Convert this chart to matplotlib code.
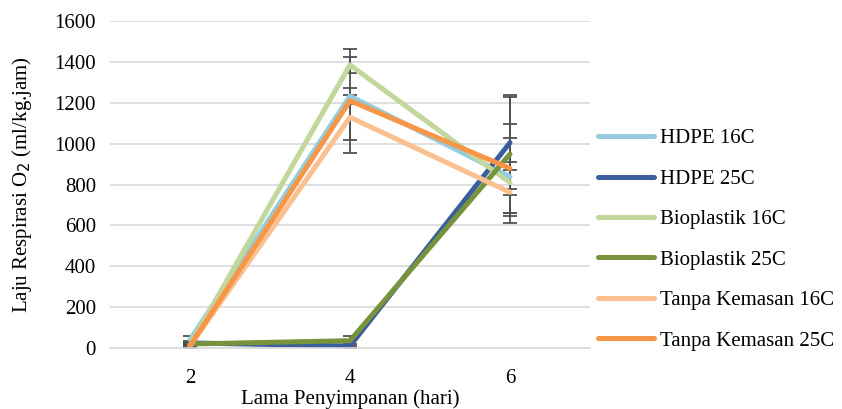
import matplotlib
matplotlib.use("Agg")
import matplotlib.pyplot as plt
import numpy as np

days = ["2", "4", "6"]
series_names = ["HDPE 16C", "HDPE 25C", "Bioplastik 16C", "Bioplastik 25C",
                "Tanpa Kemasan 16C", "Tanpa Kemasan 25C"]
hdpe16 = [40, 1233, 838]
hdpe25 = [25, 10, 1005]
bio16 = [15, 1385, 809]
bio25 = [20, 36, 949]
tanpa16 = [10, 1129, 762]
tanpa25 = [10, 1210, 879]

err_hdpe16 = [20, 40, 190]
err_hdpe25 = [10, 8, 225]
err_bio16 = [8, 40, 60]
err_bio25 = [8, 25, 290]
err_tanpa16 = [10, 110, 150]
err_tanpa25 = [8, 255, 217]

values = [hdpe16, hdpe25, bio16, bio25, tanpa16, tanpa25]
errors = [err_hdpe16, err_hdpe25, err_bio16, err_bio25, err_tanpa16, err_tanpa25]
colors = ["#93CDDD", "#3A5F9C", "#C3D69B", "#77933C", "#FAC090", "#F79646"]

plt.rcParams['font.family'] = ['Liberation Serif', 'DejaVu Serif']
FS = 15

fig = plt.figure(figsize=(8.42, 4.09), dpi=100)
ax = fig.add_axes([0.1306, 0.149, 0.5701, 0.7997])

x = np.arange(len(days))
for name, v, e, c in zip(series_names, values, errors, colors):
    ax.errorbar(x, v, yerr=e, color=c, lw=3.6, label=name,
                ecolor="#505050", elinewidth=1.3, capsize=5, capthick=1.3,
                solid_capstyle='round')

ax.set_xlim(-0.5, 2.5)
ax.set_ylim(0, 1600)
ax.set_yticks(np.arange(0, 1601, 200))
ax.set_xticks(x)
ax.set_xticklabels(days)
ax.grid(axis='y', color='#D9D9D9', lw=1.2)
ax.set_axisbelow(True)
for s in ['top', 'right', 'left']:
    ax.spines[s].set_visible(False)
ax.spines['bottom'].set_color('#D9D9D9')
ax.spines['bottom'].set_linewidth(1.2)
ax.tick_params(axis='both', length=0, labelsize=FS, colors='#000000')
ax.tick_params(axis='x', pad=15)
ax.tick_params(axis='y', pad=10)

ax.set_ylabel("Laju Respirasi O$_2$ (ml/kg.jam)", fontsize=FS, labelpad=15)
ax.set_xlabel("Lama Penyimpanan (hari)", fontsize=FS, labelpad=1)

handles = [plt.Line2D([], [], color=c, lw=3.6, solid_capstyle='round') for c in colors]
leg = fig.legend(handles, series_names, loc='center left',
                 bbox_to_anchor=(0.688, 0.414), frameon=False, fontsize=FS,
                 handlelength=2.7, handletextpad=0.25, labelspacing=1.0)

fig.savefig("out.png", dpi=100)
